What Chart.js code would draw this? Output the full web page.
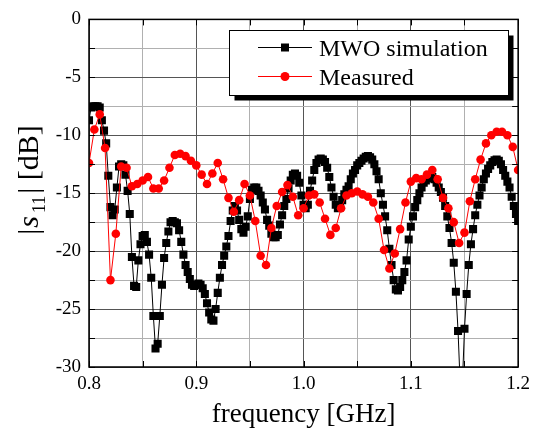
<!DOCTYPE html>
<html>
<head>
<meta charset="utf-8">
<script src="https://cdn.jsdelivr.net/npm/chart.js@4.4.1/dist/chart.umd.min.js"></script>
<style>
  html, body { margin: 0; padding: 0; background: #fff; }
  canvas { display: block; }
</style>
</head>
<body>
<canvas id="chart" width="536" height="436"></canvas>
<script>
// sweep points of the MWO simulation [GHz]
const freqSim = [
  0.800,0.802,0.804,0.806,0.808,0.810,0.812,0.814,0.816,0.818,
  0.820,0.822,0.824,0.826,0.828,0.830,0.832,0.834,0.836,0.838,
  0.840,0.842,0.844,0.846,0.848,0.850,0.852,0.854,0.856,0.858,
  0.860,0.862,0.864,0.866,0.868,0.870,0.872,0.874,0.876,0.878,
  0.880,0.882,0.884,0.886,0.888,0.890,0.892,0.894,0.896,0.898,
  0.900,0.902,0.904,0.906,0.908,0.910,0.912,0.914,0.916,0.918,
  0.920,0.922,0.924,0.926,0.928,0.930,0.932,0.934,0.936,0.938,
  0.940,0.942,0.944,0.946,0.948,0.950,0.952,0.954,0.956,0.958,
  0.960,0.962,0.964,0.966,0.968,0.970,0.972,0.974,0.976,0.978,
  0.980,0.982,0.984,0.986,0.988,0.990,0.992,0.994,0.996,0.998,
  1.000,1.002,1.004,1.006,1.008,1.010,1.012,1.014,1.016,1.018,
  1.020,1.022,1.024,1.026,1.028,1.030,1.032,1.034,1.036,1.038,
  1.040,1.042,1.044,1.046,1.048,1.050,1.052,1.054,1.056,1.058,
  1.060,1.062,1.064,1.066,1.068,1.070,1.072,1.074,1.076,1.078,
  1.080,1.082,1.084,1.086,1.088,1.090,1.092,1.094,1.096,1.098,
  1.100,1.102,1.104,1.106,1.108,1.110,1.112,1.114,1.116,1.118,
  1.120,1.122,1.124,1.126,1.128,1.130,1.132,1.134,1.136,1.138,
  1.140,1.142,1.144,1.146,1.148,1.150,1.152,1.154,1.156,1.158,
  1.160,1.162,1.164,1.166,1.168,1.170,1.172,1.174,1.176,1.178,
  1.180,1.182,1.184,1.186,1.188,1.190,1.192,1.194,1.196,1.198,
  1.200
];

// |s11| of the simulation [dB]
const s11Sim = [
  -8.7,-7.6,-7.5,-7.5,-7.5,-7.6,-8.7,-9.6,-10.7,-13.5,
  -16.2,-16.9,-16.4,-14.5,-12.7,-12.5,-12.6,-13.4,-14.8,-16.8,
  -20.5,-23.0,-23.1,-20.8,-19.4,-18.7,-18.6,-19.2,-20.3,-22.3,
  -25.6,-28.4,-28.0,-25.6,-22.9,-20.6,-19.3,-18.3,-17.5,-17.4,
  -17.5,-17.6,-18.2,-19.2,-20.3,-21.2,-21.8,-22.4,-22.9,-23.0,
  -22.9,-22.8,-22.9,-23.2,-23.7,-24.5,-25.3,-25.9,-26.0,-25.0,
  -23.6,-22.3,-21.2,-20.4,-19.6,-18.7,-17.4,-16.5,-16.1,-16.5,
  -17.3,-18.1,-18.4,-17.9,-17.0,-15.5,-14.7,-14.5,-14.5,-14.8,
  -15.2,-15.8,-16.4,-17.3,-17.8,-18.5,-18.8,-18.8,-18.6,-17.7,
  -16.9,-16.1,-15.5,-14.6,-13.9,-13.4,-13.3,-13.5,-14.1,-15.2,
  -16.0,-16.3,-16.0,-14.8,-13.9,-13.0,-12.4,-12.1,-12.0,-12.1,
  -12.3,-12.8,-13.6,-14.5,-15.3,-16.0,-16.3,-16.2,-15.6,-15.1,
  -14.7,-14.4,-13.8,-13.3,-13.0,-12.6,-12.4,-12.2,-12.0,-11.85,
  -11.8,-11.9,-12.1,-12.5,-13.1,-13.8,-15.0,-16.0,-17.0,-18.2,
  -19.8,-21.2,-22.5,-23.3,-23.4,-23.1,-22.5,-21.8,-20.8,-19.0,
  -17.9,-17.0,-16.2,-15.6,-15.0,-14.5,-14.1,-13.9,-13.7,-13.6,
  -13.6,-13.8,-14.1,-14.5,-14.9,-15.4,-16.1,-17.0,-18.0,-19.3,
  -21.0,-23.5,-26.9,-31.5,-31.5,-26.7,-23.7,-21.2,-19.4,-18.1,
  -16.9,-16.0,-15.2,-14.5,-13.8,-13.3,-12.9,-12.6,-12.3,-12.15,
  -12.1,-12.2,-12.5,-13.0,-13.5,-14.0,-14.5,-15.3,-16.1,-16.8,
  -17.4
];

// measured frequencies [GHz]
const freqMeas = [
  0.800,0.805,0.810,0.815,0.820,0.825,0.830,0.835,0.840,0.845,
  0.850,0.855,0.860,0.865,0.870,0.875,0.880,0.885,0.890,0.895,
  0.900,0.905,0.910,0.915,0.920,0.925,0.930,0.935,0.940,0.945,
  0.950,0.955,0.960,0.965,0.970,0.975,0.980,0.985,0.990,0.995,
  1.000,1.005,1.010,1.015,1.020,1.025,1.030,1.035,1.040,1.045,
  1.050,1.055,1.060,1.065,1.070,1.075,1.080,1.085,1.090,1.095,
  1.100,1.105,1.110,1.115,1.120,1.125,1.130,1.135,1.140,1.145,
  1.150,1.155,1.160,1.165,1.170,1.175,1.180,1.185,1.190,1.195,
  1.200
];

// measured |s11| [dB]
const s11Meas = [
  -12.4,-9.5,-8.2,-11.1,-22.5,-18.5,-12.7,-12.8,-14.4,-14.2,
  -13.9,-13.6,-14.6,-14.6,-13.9,-12.8,-11.7,-11.6,-11.8,-12.2,
  -12.6,-13.4,-14.2,-13.3,-12.4,-13.8,-15.4,-16.6,-15.6,-14.2,
  -15.2,-17.4,-20.4,-21.2,-18.0,-16.1,-14.9,-14.3,-15.3,-16.9,
  -16.3,-15.2,-15.1,-15.8,-17.2,-18.6,-18.0,-16.3,-15.2,-15.0,
  -14.85,-15.1,-15.3,-15.8,-17.2,-19.9,-21.5,-20.2,-18.1,-15.8,
  -14.0,-13.7,-13.8,-13.4,-13.0,-13.8,-15.4,-16.3,-17.5,-19.3,
  -18.4,-15.7,-13.8,-12.1,-10.7,-10.0,-9.7,-9.7,-10.0,-11.0,
  -13.0
];

const legendLabels = ['MWO simulation', 'Measured'];

const SERIF = "'Liberation Serif', 'Times New Roman', serif";
const isMajorX = v => Math.abs(v * 10 - Math.round(v * 10)) < 1e-6;
const isMajorY = v => Math.abs(v / 5 - Math.round(v / 5)) < 1e-6;

// frame, inward ticks, axis titles and the legend box
const decorations = {
  id: 'decorations',
  afterDraw(chart) {
    const { ctx, chartArea: a, scales } = chart;
    ctx.save();
    ctx.strokeStyle = '#000';
    ctx.lineWidth = 1.5;
    ctx.strokeRect(a.left, a.top, a.right - a.left, a.bottom - a.top);

    ctx.lineWidth = 1;
    ctx.beginPath();
    scales.x.ticks.forEach(t => {
      const px = Math.round(scales.x.getPixelForValue(t.value)) + 0.5;
      ctx.moveTo(px, a.bottom); ctx.lineTo(px, a.bottom - 6);
      ctx.moveTo(px, a.top); ctx.lineTo(px, a.top + 6);
    });
    scales.y.ticks.forEach(t => {
      const py = Math.round(scales.y.getPixelForValue(t.value)) + 0.5;
      ctx.moveTo(a.left, py); ctx.lineTo(a.left + 6, py);
      ctx.moveTo(a.right, py); ctx.lineTo(a.right - 6, py);
    });
    ctx.stroke();

    // x title
    ctx.fillStyle = '#000';
    ctx.font = '27px ' + SERIF;
    ctx.textAlign = 'center';
    ctx.textBaseline = 'alphabetic';
    ctx.fillText('frequency [GHz]', (a.left + a.right) / 2, 422);

    // y title |s11| [dB], rotated
    ctx.save();
    ctx.translate(38, 180);
    ctx.rotate(-Math.PI / 2);
    const parts = [
      { t: '|', f: '30px ' + SERIF, dy: 0, gap: 1 },
      { t: 's', f: 'italic 30px ' + SERIF, dy: 0, gap: 3 },
      { t: '11', f: '18px ' + SERIF, dy: 7, gap: 2 },
      { t: '| [dB]', f: '30px ' + SERIF, dy: 0, gap: 0 }
    ];
    let total = 0;
    parts.forEach(p => { ctx.font = p.f; p.w = ctx.measureText(p.t).width; total += p.w + p.gap; });
    let x = -total / 2;
    ctx.textAlign = 'left';
    parts.forEach(p => { ctx.font = p.f; ctx.fillText(p.t, x, p.dy); x += p.w + p.gap; });
    ctx.restore();

    // legend
    const bx = 229.5, by = 30.5, bw = 279, bh = 65;
    ctx.fillStyle = '#000';
    ctx.fillRect(bx + 5, by + 5, bw, bh);
    ctx.fillStyle = '#fff';
    ctx.fillRect(bx, by, bw, bh);
    ctx.strokeStyle = '#000';
    ctx.lineWidth = 1;
    ctx.strokeRect(bx, by, bw, bh);

    const rows = [
      { y: 47.5, ds: chart.data.datasets[1] },
      { y: 76.5, ds: chart.data.datasets[0] }
    ];
    rows.forEach((r, i) => {
      ctx.strokeStyle = r.ds.borderColor;
      ctx.lineWidth = 1;
      ctx.beginPath();
      ctx.moveTo(258, r.y); ctx.lineTo(312, r.y);
      ctx.stroke();
      ctx.fillStyle = r.ds.backgroundColor;
      if (r.ds.pointStyle === 'rect') {
        ctx.fillRect(285 - 4, r.y - 4, 8, 8);
      } else {
        ctx.beginPath();
        ctx.arc(285, r.y, 4.5, 0, Math.PI * 2);
        ctx.fill();
      }
      ctx.fillStyle = '#000';
      ctx.font = '24px ' + SERIF;
      ctx.textAlign = 'left';
      ctx.fillText(legendLabels[i], 319, r.y + 8);
    });
    ctx.restore();
  }
};

new Chart(document.getElementById('chart'), {
  type: 'line',
  data: {
    datasets: [
      {
        label: legendLabels[1],
        data: freqMeas.map((f, i) => ({ x: f, y: s11Meas[i] })),
        borderColor: '#ff0000',
        backgroundColor: '#ff0000',
        borderWidth: 1,
        pointStyle: 'circle',
        pointRadius: 4.3,
        pointBorderWidth: 0,
        tension: 0
      },
      {
        label: legendLabels[0],
        data: freqSim.map((f, i) => ({ x: f, y: s11Sim[i] })),
        borderColor: '#000',
        backgroundColor: '#000',
        borderWidth: 1,
        pointStyle: 'rect',
        pointRadius: 5.7,
        pointBorderWidth: 0,
        tension: 0
      }
    ]
  },
  options: {
    responsive: false,
    animation: false,
    layout: { padding: { top: 19, right: 12, left: 0, bottom: 0 }, autoPadding: false },
    plugins: { legend: { display: false }, tooltip: { enabled: false }, title: { display: false } },
    scales: {
      x: {
        type: 'linear',
        min: 0.8,
        max: 1.2,
        afterFit: s => { s.height = 69; },
        border: { display: false },
        grid: {
          drawTicks: false,
          color: c => isMajorX(c.tick.value) ? '#555' : '#b0b0b0',
          lineWidth: 1
        },
        ticks: {
          stepSize: 0.05,
          autoSkip: false,
          maxRotation: 0,
          padding: 6,
          color: '#000',
          font: { family: SERIF, size: 19 },
          callback: v => isMajorX(v) ? v.toFixed(1) : ''
        }
      },
      y: {
        min: -30,
        max: 0,
        afterFit: s => { s.width = 89; },
        border: { display: false },
        grid: {
          drawTicks: false,
          color: c => isMajorY(c.tick.value) ? '#555' : '#b0b0b0',
          lineWidth: 1
        },
        ticks: {
          stepSize: 2.5,
          autoSkip: false,
          padding: 8,
          color: '#000',
          font: { family: SERIF, size: 19 },
          callback: v => isMajorY(v) ? String(v) : ''
        }
      }
    }
  },
  plugins: [decorations]
});
</script>
</body>
</html>
